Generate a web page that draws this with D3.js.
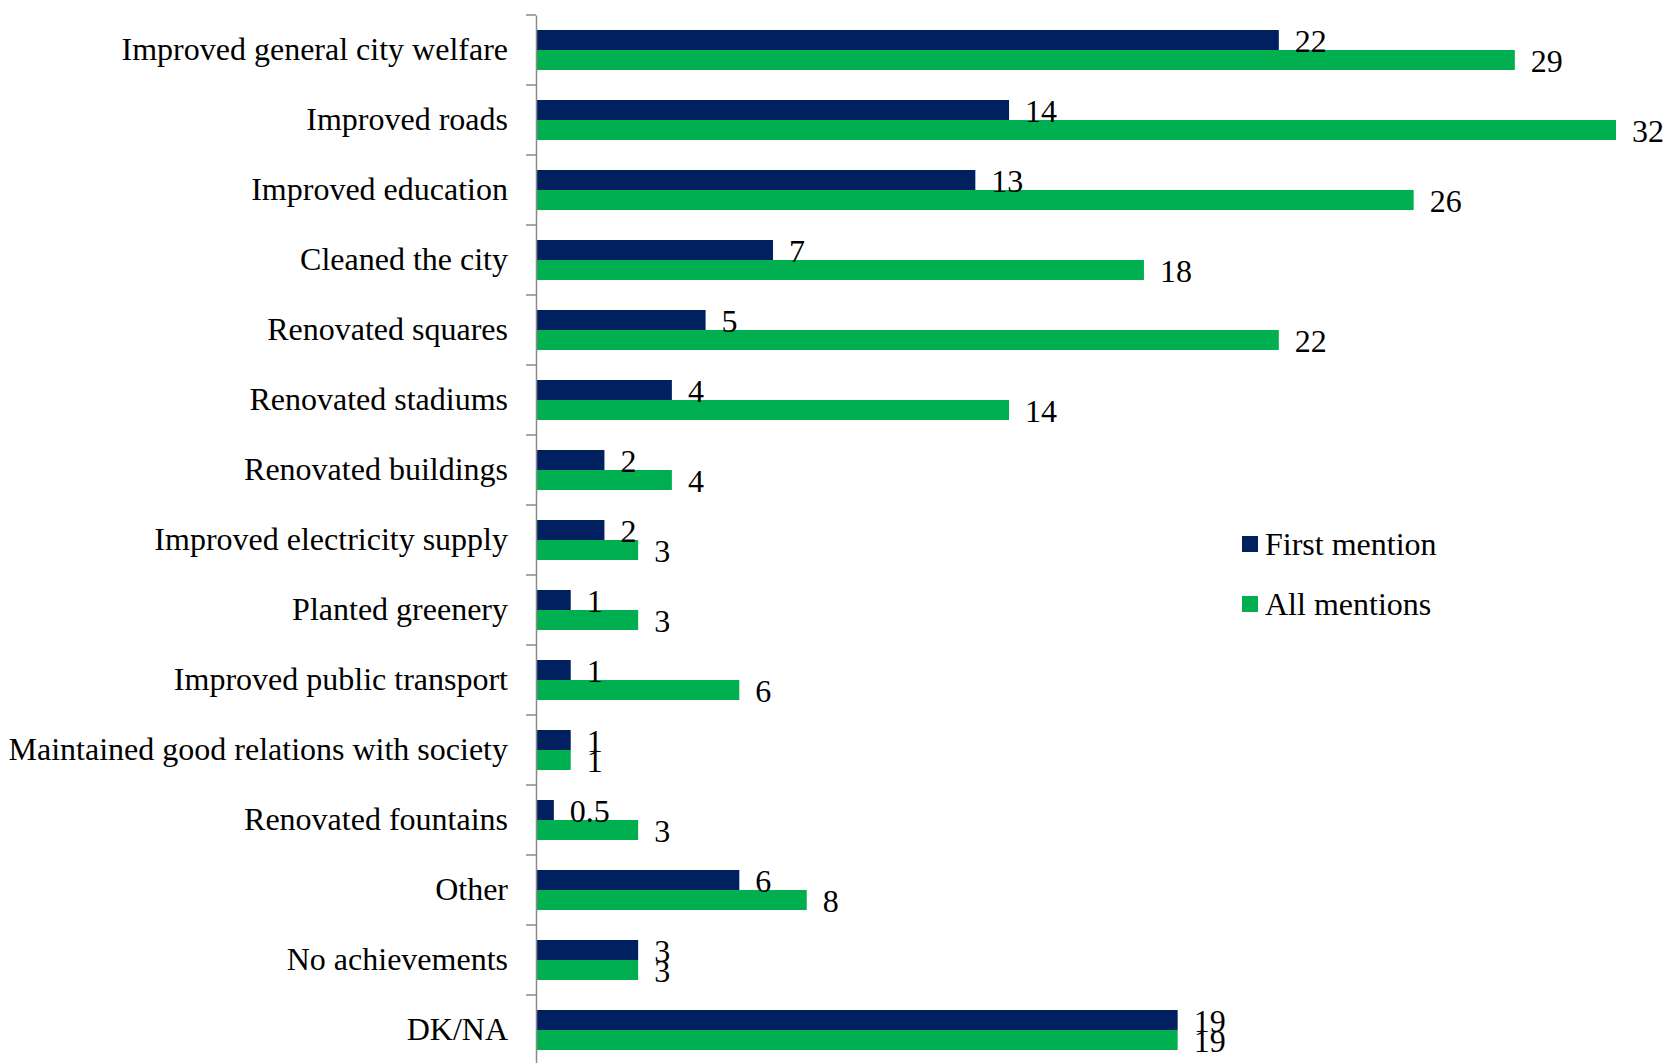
<!DOCTYPE html>
<html>
<head>
<meta charset="utf-8">
<script src="https://cdn.jsdelivr.net/npm/d3@7"></script>
<style>
  html, body { margin: 0; padding: 0; background: #fff; }
  svg { display: block; }
  text { font-family: "Liberation Serif", "Times New Roman", serif; fill: #000; }
</style>
</head>
<body>
<svg id="chart" width="1667" height="1063"></svg>
<script>
const categories = [
  "Improved general city welfare",
  "Improved roads",
  "Improved education",
  "Cleaned the city",
  "Renovated squares",
  "Renovated stadiums",
  "Renovated buildings",
  "Improved electricity supply",
  "Planted greenery",
  "Improved public transport",
  "Maintained good relations with society",
  "Renovated fountains",
  "Other",
  "No achievements",
  "DK/NA"
];
const firstMention = [22, 14, 13, 7, 5, 4, 2, 2, 1, 1, 1, 0.5, 6, 3, 19];
const allMentions  = [29, 32, 26, 18, 22, 14, 4, 3, 3, 6, 1, 3, 8, 3, 19];
const seriesNames = ["First mention", "All mentions"];
const seriesColors = ["#002060", "#00B050"];

const svg = d3.select("#chart");
const x0 = 537;
const x = d3.scaleLinear().domain([0, 32]).range([x0, 1616]);
const y = d3.scaleBand().domain(categories).range([15, 1065])
  .paddingInner(30 / 70).paddingOuter(15 / 70);
const ySub = d3.scaleBand().domain([0, 1]).range([0, y.bandwidth()]);

const rows = categories.map((c, i) => ({ cat: c, vals: [firstMention[i], allMentions[i]] }));

// bars
const g = svg.append("g");
const groups = g.selectAll("g.row").data(rows).join("g")
  .attr("transform", d => `translate(0,${y(d.cat)})`);
groups.selectAll("rect").data(d => d.vals.map((v, s) => ({ v, s }))).join("rect")
  .attr("x", x(0))
  .attr("y", d => ySub(d.s))
  .attr("width", d => x(d.v) - x(0))
  .attr("height", ySub.bandwidth())
  .attr("fill", d => seriesColors[d.s]);
groups.selectAll("text.val").data(d => d.vals.map((v, s) => ({ v, s }))).join("text")
  .attr("class", "val")
  .attr("x", d => x(d.v) + 16)
  .attr("y", d => ySub(d.s) + ySub.bandwidth() / 2)
  .attr("dy", "0.36em")
  .style("font-size", "32px")
  .text(d => d.v);

// y axis
const axis = svg.append("g").attr("transform", `translate(536,0)`)
  .call(d3.axisLeft(y).tickSize(0).tickPadding(28));
axis.select(".domain").attr("stroke", "#8a8a8a").attr("stroke-width", 1.5);
axis.selectAll(".tick text")
  .style("font-family", '"Liberation Serif", "Times New Roman", serif')
  .style("font-size", "32px").attr("fill", "#000").attr("dy", "0.32em");
const bounds = d3.range(categories.length + 1).map(i => y.range()[0] + i * y.step());
axis.selectAll("line.bt").data(bounds).join("line").attr("class", "bt")
  .attr("x1", -10).attr("x2", 0).attr("y1", d => d).attr("y2", d => d)
  .attr("stroke", "#8a8a8a").attr("stroke-width", 1.5);

// legend
const leg = svg.append("g").attr("transform", "translate(1242,536)");
const li = leg.selectAll("g").data(seriesNames).join("g")
  .attr("transform", (d, i) => `translate(0,${i * 60})`);
li.append("rect").attr("width", 16).attr("height", 16).attr("fill", (d, i) => seriesColors[i]);
li.append("text").attr("x", 23).attr("y", 19).style("font-size", "32px").text(d => d);
</script>
</body>
</html>
